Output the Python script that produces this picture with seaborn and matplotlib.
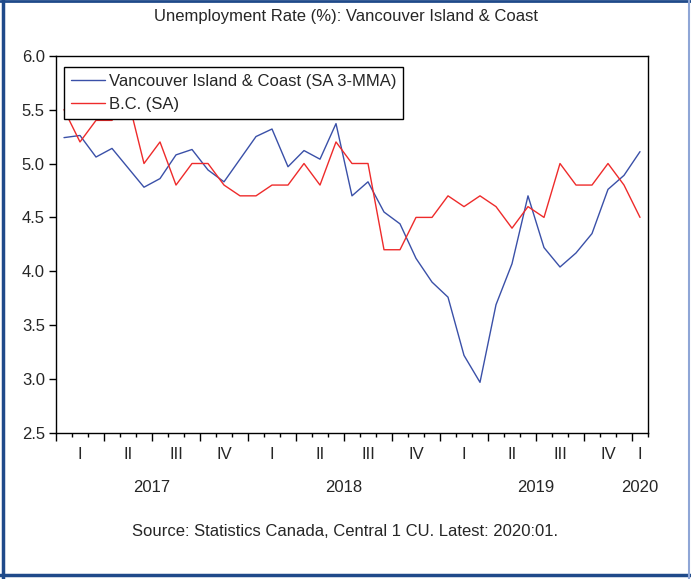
import numpy as np
import pandas as pd
import matplotlib
matplotlib.use('Agg')
import matplotlib.pyplot as plt
import seaborn as sns
from matplotlib.lines import Line2D

# monthly, 2017:01 - 2020:01
months = pd.period_range('2017-01', '2020-01', freq='M').astype(str).tolist()

van_island = [5.24, 5.26, 5.06, 5.14, 4.96, 4.78, 4.86, 5.08, 5.13, 4.94,
              4.83, 5.04, 5.25, 5.32, 4.97, 5.12, 5.04, 5.37, 4.70, 4.83,
              4.55, 4.44, 4.12, 3.90, 3.76, 3.22, 2.97, 3.69, 4.07, 4.70,
              4.22, 4.04, 4.17, 4.35, 4.76, 4.89, 5.11]
bc = [5.5, 5.2, 5.4, 5.4, 5.6, 5.0, 5.2, 4.8, 5.0, 5.0,
      4.8, 4.7, 4.7, 4.8, 4.8, 5.0, 4.8, 5.2, 5.0, 5.0,
      4.2, 4.2, 4.5, 4.5, 4.7, 4.6, 4.7, 4.6, 4.4, 4.6,
      4.5, 5.0, 4.8, 4.8, 5.0, 4.8, 4.5]

quarter_names = ['I', 'II', 'III', 'IV']
years = ['2017', '2018', '2019', '2020']

df = pd.DataFrame({'month': months, 'van': van_island, 'bc': bc})
df['t'] = np.arange(len(df))

sns.set_style('ticks')
plt.rcParams['font.family'] = ['Liberation Sans', 'DejaVu Sans']
fs = 12

fig = plt.figure(figsize=(6.91, 5.79), dpi=100)
ax = fig.add_axes([56/691, 1-433/579, 592/691, 377.3/579])

sns.lineplot(data=df, x='t', y='van', color='#3a50a8', lw=1.0, ax=ax,
             label='Vancouver Island & Coast (SA 3-MMA)')
sns.lineplot(data=df, x='t', y='bc', color='#ee2b2b', lw=1.0, ax=ax,
             label='B.C. (SA)')

n = len(df)
ax.set_xlim(-0.5, n - 0.5)
ax.set_ylim(2.5, 6.0)
ax.set_yticks(np.arange(2.5, 6.01, 0.5))
ax.set_yticklabels([f'{v:.1f}' for v in np.arange(2.5, 6.01, 0.5)], fontsize=fs)
ax.set_xlabel('')
ax.set_ylabel('')

# month ticks (minor) and quarter ticks (major) on the boundaries
ax.set_xticks(np.arange(-0.5, n, 3))
ax.set_xticklabels([])
ax.set_xticks(np.arange(-0.5, n, 1), minor=True)
ax.tick_params(axis='x', which='major', length=6, width=1, color='black', direction='out')
ax.tick_params(axis='x', which='minor', length=3, width=1, color='black', direction='out')
ax.tick_params(axis='y', length=5, width=1, color='black', pad=3)

for s in ax.spines.values():
    s.set_visible(True)
    s.set_color('black')
    s.set_linewidth(1.0)

# quarter and year labels
xt = ax.get_xaxis_transform()
for i, m in enumerate(months):
    mm = int(m[5:7])
    if mm % 3 == 1:
        q = quarter_names[(mm - 1) // 3]
        pos = min(i + 1, n - 1)
        ax.text(pos, -0.058, q, transform=xt, ha='center', va='center', fontsize=fs)
for y in years:
    idx = [i for i, m in enumerate(months) if m.startswith(y)]
    ax.text(np.mean(idx), -0.145, y, transform=xt, ha='center', va='center', fontsize=fs)

leg = ax.legend(loc='upper left', bbox_to_anchor=(0.0135, 0.970), borderaxespad=0,
                fontsize=fs, frameon=True, fancybox=False, edgecolor='black',
                framealpha=1, handlelength=2.05, handletextpad=0.25,
                labelspacing=0.5, borderpad=0.4)
leg.get_frame().set_linewidth(1.0)

fig.text(0.5, 1 - 17/579, 'Unemployment Rate (%): Vancouver Island & Coast',
         ha='center', va='center', fontsize=fs)
fig.text(0.5, 1 - 532/579, 'Source: Statistics Canada, Central 1 CU. Latest: 2020:01.',
         ha='center', va='center', fontsize=fs)

# outer frame
fig.add_artist(Line2D([3/691, 3/691], [0, 1], transform=fig.transFigure, color='#1f4a8a', lw=2.5))
fig.add_artist(Line2D([0, 1], [1 - 1/579, 1 - 1/579], transform=fig.transFigure, color='#1f4a8a', lw=2))
fig.add_artist(Line2D([0, 1], [1 - 575/579, 1 - 575/579], transform=fig.transFigure, color='#1f4a8a', lw=2.5))
fig.add_artist(Line2D([689/691, 689/691], [0, 1], transform=fig.transFigure, color='#8fa6d6', lw=1.5))

fig.savefig('out.png', dpi=100, facecolor='white')
